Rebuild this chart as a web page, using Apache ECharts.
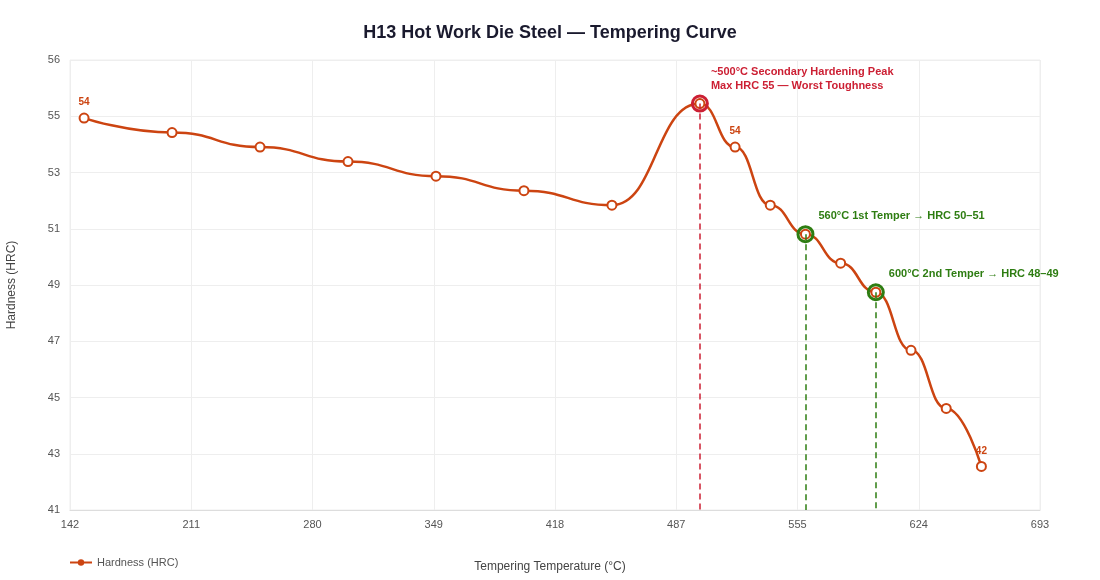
<!DOCTYPE html>
<html>
<head>
<meta charset="utf-8">
<title>H13 Tempering Curve</title>
<script src="https://cdn.jsdelivr.net/npm/echarts@6/dist/echarts.min.js"></script>
<style>
html, body { margin: 0; padding: 0; background: #fff; }
#chart { width: 1100px; height: 580px; }
</style>
</head>
<body>
<div id="chart"></div>
<script>
// tempering temperature (°C) and resulting hardness (HRC)
var temps = [150, 200, 250, 300, 350, 400, 450, 500, 520, 540, 560, 580, 600, 620, 640, 660];
var hardness = [54.5, 54, 53.5, 53, 52.5, 52, 51.5, 55, 53.5, 51.5, 50.5, 49.5, 48.5, 46.5, 44.5, 42.5];
var valueLabelIdx = [0, 8, 15];
var peakIdx = 7;
var temperIdx = [10, 12];
var peakText = ['~500°C Secondary Hardening Peak', 'Max HRC 55 — Worst Toughness'];
var temperText = ['560°C 1st Temper → HRC 50–51', '600°C 2nd Temper → HRC 48–49'];

var xMin = 142, xMax = 693.3;
var yMin = 41, yMax = 56.5;

var lineColor = '#cc4411';
var red = '#cc1f33';
var green = '#2e7d12';

// python-style rounding, 54.5 -> 54, 56.5 -> 56
function roundHalfEven(v) {
  var f = Math.floor(v);
  if (Math.abs(v - f - 0.5) < 1e-9) return f % 2 === 0 ? f : f + 1;
  return Math.round(v);
}

var chart = echarts.init(document.getElementById('chart'));

var seriesData = temps.map(function (t, i) {
  var item = { value: [t, hardness[i]] };
  if (valueLabelIdx.indexOf(i) >= 0) {
    item.label = {
      show: true,
      position: 'top',
      color: lineColor,
      fontSize: 10,
      fontWeight: 'bold',
      formatter: function (p) { return String(roundHalfEven(p.value[1])); }
    };
  }
  return item;
});

var ringPoints = [];
var dropLines = [];

ringPoints.push({
  coord: [temps[peakIdx], hardness[peakIdx]],
  itemStyle: { color: 'rgba(0,0,0,0)', borderColor: red, borderWidth: 3 },
  label: {
    show: true,
    position: 'right',
    offset: [-3, -25],
    align: 'left',
    color: red,
    fontSize: 11,
    fontWeight: 'bold',
    lineHeight: 14,
    formatter: peakText.join('\n')
  }
});
dropLines.push([
  { coord: [temps[peakIdx], hardness[peakIdx]], lineStyle: { color: red } },
  { coord: [temps[peakIdx], yMin] }
]);

temperIdx.forEach(function (idx, k) {
  ringPoints.push({
    coord: [temps[idx], hardness[idx]],
    itemStyle: { color: 'rgba(0,0,0,0)', borderColor: green, borderWidth: 3 },
    label: {
      show: true,
      position: 'right',
      offset: [-1, -18],
      align: 'left',
      color: green,
      fontSize: 11,
      fontWeight: 'bold',
      formatter: temperText[k]
    }
  });
  dropLines.push([
    { coord: [temps[idx], hardness[idx]], lineStyle: { color: green } },
    { coord: [temps[idx], yMin] }
  ]);
});

var option = {
  animation: false,
  backgroundColor: '#fff',
  textStyle: { fontFamily: '"Liberation Sans", Arial, sans-serif' },
  title: {
    text: 'H13 Hot Work Die Steel — Tempering Curve',
    left: 'center',
    top: 19,
    textStyle: { fontSize: 18, fontWeight: 'bold', color: '#1a1a2e' }
  },
  legend: {
    left: 64,
    top: 552,
    itemWidth: 22,
    itemHeight: 8,
    itemStyle: { color: lineColor, borderWidth: 0 },
    textStyle: { fontSize: 11, color: '#555' },
    data: ['Hardness (HRC)']
  },
  grid: {
    left: 70,
    right: 60,
    top: 60,
    bottom: 70,
    outerBoundsMode: 'none',
    show: true,
    borderColor: '#eeeeee',
    borderWidth: 1
  },
  xAxis: {
    type: 'value',
    min: xMin,
    max: xMax,
    interval: (xMax - xMin) / 8,
    name: 'Tempering Temperature (°C)',
    nameLocation: 'middle',
    nameGap: 51,
    nameTextStyle: { fontSize: 12, color: '#444', padding: [0, 10, 0, 0] },
    axisLine: { show: true, lineStyle: { color: '#dddddd' } },
    axisTick: { show: false },
    axisLabel: {
      fontSize: 11,
      color: '#555',
      margin: 9,
      formatter: function (v) { return String(Math.round(v)); }
    },
    splitLine: { show: true, lineStyle: { color: '#eeeeee' } }
  },
  yAxis: {
    type: 'value',
    min: yMin,
    max: yMax,
    interval: (yMax - yMin) / 8,
    name: 'Hardness (HRC)',
    nameLocation: 'middle',
    nameGap: 52,
    nameTextStyle: { fontSize: 12, color: '#444' },
    axisLine: { show: false },
    axisTick: { show: false },
    axisLabel: {
      fontSize: 11,
      color: '#555',
      margin: 10,
      formatter: function (v) { return String(roundHalfEven(v)); }
    },
    splitLine: { show: true, lineStyle: { color: '#eeeeee' } }
  },
  series: [
    {
      name: 'Hardness (HRC)',
      type: 'line',
      smooth: true,
      smoothMonotone: 'x',
      data: seriesData,
      symbol: 'circle',
      symbolSize: 9,
      lineStyle: { color: lineColor, width: 2.5 },
      itemStyle: { color: '#ffffff', borderColor: lineColor, borderWidth: 2 },
      markPoint: {
        symbol: 'circle',
        symbolSize: 15,
        silent: true,
        data: ringPoints
      },
      markLine: {
        silent: true,
        symbol: ['none', 'none'],
        label: { show: false },
        lineStyle: { type: [6, 4], width: 1.5 },
        data: dropLines
      }
    }
  ]
};

chart.setOption(option);
</script>
</body>
</html>
